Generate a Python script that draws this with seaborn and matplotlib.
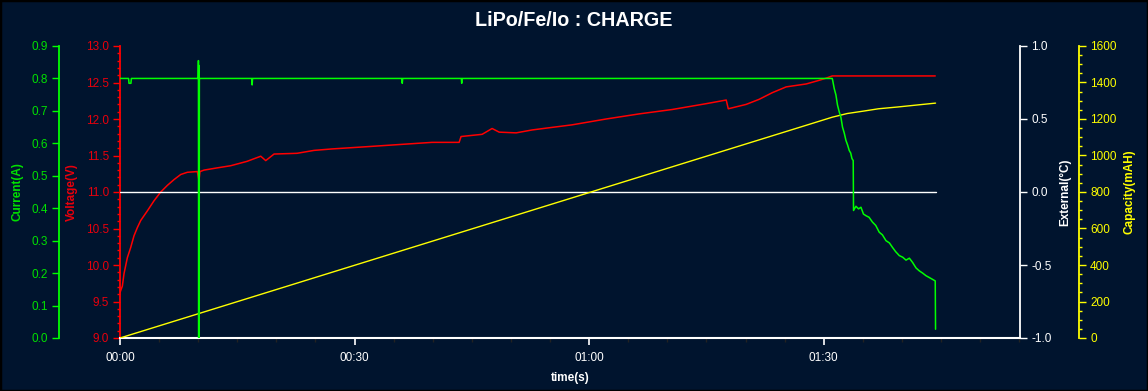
import numpy as np
import pandas as pd
import matplotlib
matplotlib.use("Agg")
import matplotlib.pyplot as plt
import seaborn as sns
from matplotlib.ticker import MultipleLocator, FuncFormatter, FixedLocator
from matplotlib.patches import Rectangle

# ---------------- data (time in minutes) ----------------
volt_t = [0.0, 0.09, 0.3, 0.51, 0.94, 1.37, 1.79, 2.21, 2.65, 3.49, 4.35, 5.21, 6.05, 6.91,
          7.77, 8.61, 9.89, 10.1, 10.23, 10.75, 12.41, 14.16, 16.25, 18.0, 18.64, 19.7,
          22.64, 24.82, 27.12, 31.47, 35.69, 39.91, 43.37, 43.62, 46.31, 47.59, 48.49,
          50.66, 52.71, 54.88, 57.82, 62.17, 66.40, 70.62, 74.97, 77.53, 77.79, 80.08,
          81.75, 83.41, 85.20, 87.76, 89.42, 90.32, 91.08, 104.26]
volt_v = [9.62, 9.65, 9.71, 9.88, 10.10, 10.24, 10.40, 10.51, 10.61, 10.74, 10.88, 11.00, 11.09, 11.17,
          11.24, 11.27, 11.28, 11.16, 11.28, 11.30, 11.33, 11.36, 11.42, 11.49, 11.43, 11.52,
          11.53, 11.57, 11.59, 11.62, 11.65, 11.68, 11.68, 11.76, 11.79, 11.87, 11.82,
          11.81, 11.85, 11.88, 11.92, 12.00, 12.07, 12.13, 12.21, 12.26, 12.14, 12.20,
          12.27, 12.36, 12.44, 12.48, 12.53, 12.56, 12.59, 12.59]

cur_t = [0.0, 1.1, 1.15, 1.4, 1.45, 10.0, 10.03, 10.06, 10.09, 10.12, 10.15, 10.2,
         16.85, 16.9, 16.95, 36.05, 36.1, 36.15, 43.65, 43.7, 43.75,
         91.08, 91.12, 91.34, 91.56, 91.76, 91.98, 92.20, 92.40, 92.62, 92.84, 93.05, 93.26,
         93.45, 93.61, 93.77, 93.81,
         94.12, 94.45, 94.76, 95.08, 95.40, 95.80, 96.24, 96.65, 97.10, 97.50, 97.96, 98.40,
         98.80, 99.20, 99.66, 100.10, 100.52, 100.95, 101.36, 101.80, 102.22, 102.65,
         103.08, 103.60, 104.26, 104.30]
cur_a = [0.80, 0.80, 0.785, 0.785, 0.80, 0.80, 0.855, 0.0, 0.84, 0.0, 0.80, 0.80,
         0.80, 0.78, 0.80, 0.80, 0.785, 0.80, 0.80, 0.785, 0.80,
         0.80, 0.797, 0.769, 0.749, 0.718, 0.697, 0.680, 0.650, 0.632, 0.609, 0.595, 0.578,
         0.570, 0.553, 0.547, 0.393,
         0.406, 0.398, 0.403, 0.382, 0.377, 0.372, 0.357, 0.347, 0.326, 0.318, 0.300, 0.293,
         0.279, 0.266, 0.254, 0.249, 0.240, 0.246, 0.233, 0.216, 0.207, 0.200,
         0.192, 0.185, 0.176, 0.027]

cap_t = [0.0, 91.1, 93.0, 95.2, 97.0, 99.5, 102.0, 104.3]
cap_mah = [0, 1210, 1230, 1244, 1256, 1266, 1277, 1287]

ext_t = [0.0, 104.3]
ext_c = [0.0, 0.0]

time_ticks = [0, 30, 60, 90]
title = "LiPo/Fe/Io : CHARGE"

# ---------------- style ----------------
BG = "#00142e"
GREEN = "#00ff00"
GREEN_T = "#00e000"
RED = "#ff0000"
RED_T = "#e8000c"
YELLOW = "#ffff00"
WHITE = "#ffffff"

sns.set_style("dark", {"axes.facecolor": BG, "figure.facecolor": BG})
plt.rcParams["font.family"] = ["Liberation Sans", "DejaVu Sans"]

W, H = 1148, 391
fig = plt.figure(figsize=(W / 100, H / 100), dpi=100, facecolor=BG)
L, R, T, B = 120, 1020, 46, 338
ax = fig.add_axes([L / W, 1 - B / H, (R - L) / W, (B - T) / H])
ax.set_facecolor(BG)
ax.grid(False)

ax_ext = ax.twinx()
ax_cap = ax.twinx()
ax_cur = ax.twinx()

fs = 8.5
px = 0.72  # px -> pt

df_v = pd.DataFrame({"t": volt_t, "v": volt_v})
df_c = pd.DataFrame({"t": cur_t, "a": cur_a})
df_cap = pd.DataFrame({"t": cap_t, "c": cap_mah})
df_e = pd.DataFrame({"t": ext_t, "e": ext_c})

sns.lineplot(data=df_v, x="t", y="v", ax=ax, color=RED, lw=1.1, estimator=None, sort=False)
sns.lineplot(data=df_e, x="t", y="e", ax=ax_ext, color=WHITE, lw=1.0, estimator=None, sort=False)
sns.lineplot(data=df_cap, x="t", y="c", ax=ax_cap, color=YELLOW, lw=1.0, estimator=None, sort=False)
sns.lineplot(data=df_c, x="t", y="a", ax=ax_cur, color=GREEN, lw=1.1, estimator=None, sort=False)

for a in (ax, ax_ext, ax_cap, ax_cur):
    a.grid(False)
    for s in a.spines.values():
        s.set_visible(False)
    a.set_xlim(0, 115.1)

# x axis
ax.spines["bottom"].set_visible(True)
ax.spines["bottom"].set_color(WHITE)
ax.spines["bottom"].set_linewidth(1.5)
ax.xaxis.set_major_locator(FixedLocator(time_ticks))
ax.xaxis.set_minor_locator(MultipleLocator(5))
ax.xaxis.set_major_formatter(FuncFormatter(lambda v, p: f"{int(v)//60:02d}:{int(v)%60:02d}"))
ax.tick_params(axis="x", which="major", colors=WHITE, length=5, width=1.2, direction="out",
               labelsize=fs, pad=5, bottom=True)
ax.tick_params(axis="x", which="minor", colors="#222222", length=3, width=1, bottom=True)
ax.set_xlabel("time(s)", color=WHITE, fontsize=fs, fontweight="bold", labelpad=6)

# voltage axis (inner left)
ax.set_ylim(9.0, 13.0)
ax.spines["left"].set_visible(True)
ax.spines["left"].set_color(RED)
ax.spines["left"].set_linewidth(1.3)
ax.yaxis.set_major_locator(MultipleLocator(0.5))
ax.yaxis.set_minor_locator(MultipleLocator(0.1))
ax.yaxis.set_major_formatter(FuncFormatter(lambda v, p: f"{v:.1f}"))
ax.tick_params(axis="y", which="major", colors=RED, labelcolor=RED_T, length=5, width=1,
               labelsize=fs, pad=3, left=True)
ax.tick_params(axis="y", which="minor", colors=RED, length=2.5, width=1, left=True)
ax.set_ylabel("Voltage(V)", color=RED_T, fontsize=fs, fontweight="bold")
ax.yaxis.set_label_coords((72 - L) / (R - L), 0.5)
ax.yaxis.label.set_verticalalignment("center")

# current axis (outer left)
ax_cur.set_ylim(0.0, 0.9)
ax_cur.yaxis.set_ticks_position("left")
ax_cur.yaxis.set_label_position("left")
ax_cur.spines["left"].set_visible(True)
ax_cur.spines["left"].set_position(("outward", (L - 59) * px))
ax_cur.spines["left"].set_color(GREEN)
ax_cur.spines["left"].set_linewidth(1.3)
ax_cur.yaxis.set_major_locator(MultipleLocator(0.1))
ax_cur.yaxis.set_major_formatter(FuncFormatter(lambda v, p: f"{v:.1f}"))
ax_cur.tick_params(axis="y", which="major", colors=GREEN, labelcolor=GREEN_T, length=5, width=1,
                   labelsize=fs, pad=3, left=True, right=False, labelleft=True, labelright=False)
ax_cur.set_ylabel("Current(A)", color=GREEN_T, fontsize=fs, fontweight="bold")
ax_cur.yaxis.set_label_coords((17 - L) / (R - L), 0.5)
ax_cur.yaxis.label.set_verticalalignment("center")

# external axis (inner right)
ax_ext.set_ylim(-1.0, 1.0)
ax_ext.spines["right"].set_visible(True)
ax_ext.spines["right"].set_color(WHITE)
ax_ext.spines["right"].set_linewidth(1.3)
ax_ext.yaxis.set_major_locator(MultipleLocator(0.5))
ax_ext.yaxis.set_major_formatter(FuncFormatter(lambda v, p: f"{v:.1f}"))
ax_ext.tick_params(axis="y", which="major", colors=WHITE, length=5, width=1,
                   labelsize=fs, pad=3)
ax_ext.set_ylabel("External(°C)", color=WHITE, fontsize=fs, fontweight="bold")
ax_ext.yaxis.set_label_coords((1065 - L) / (R - L), 0.5)
ax_ext.yaxis.label.set_verticalalignment("center")

# capacity axis (outer right)
ax_cap.set_ylim(0, 1600)
ax_cap.spines["right"].set_visible(True)
ax_cap.spines["right"].set_position(("outward", (1079 - R) * px))
ax_cap.spines["right"].set_color(YELLOW)
ax_cap.spines["right"].set_linewidth(1.3)
ax_cap.yaxis.set_major_locator(MultipleLocator(200))
ax_cap.yaxis.set_minor_locator(MultipleLocator(50))
ax_cap.yaxis.set_major_formatter(FuncFormatter(lambda v, p: f"{int(v)}"))
ax_cap.tick_params(axis="y", which="major", colors=YELLOW, length=5, width=1,
                   labelsize=fs, pad=3)
ax_cap.tick_params(axis="y", which="minor", colors=YELLOW, length=2.5, width=1)
ax_cap.set_ylabel("Capacity(mAH)", color=YELLOW, fontsize=fs, fontweight="bold")
ax_cap.yaxis.set_label_coords((1130 - L) / (R - L), 0.5)
ax_cap.yaxis.label.set_verticalalignment("center")

for a in (ax_ext, ax_cap, ax_cur):
    a.set_xlabel("")
    a.tick_params(axis="x", bottom=False, labelbottom=False)

fig.text(0.5, 1 - 20 / H, title, color=WHITE, fontsize=14.2, fontweight="bold",
         ha="center", va="center")

fig.patches.append(Rectangle((0, 0), 1, 1, transform=fig.transFigure, fill=False,
                             edgecolor="black", lw=2.5))

fig.savefig("out.png", dpi=100, facecolor=BG)
